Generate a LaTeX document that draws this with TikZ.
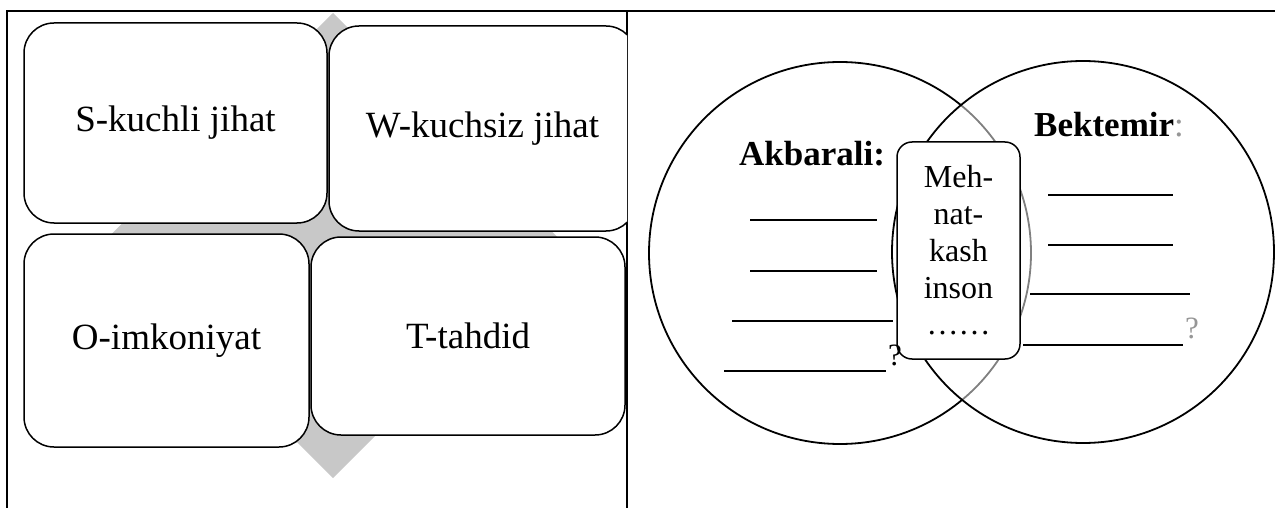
\documentclass[tikz,border=0pt]{standalone}
\usepackage{fontspec}
\setmainfont{Liberation Serif}
\usetikzlibrary{positioning}
\definecolor{diamondgray}{RGB}{200,200,200}
\definecolor{softgray}{RGB}{150,150,150}
\tikzset{
  tablerule/.style={line width=2pt},
  swotbox/.style={draw, line width=1.5pt, rounded corners=30pt, fill=white, inner sep=0pt, font=\fontsize{37}{44}\selectfont},
  vennset/.style={draw, circle, line width=1.8pt, minimum size=382pt, inner sep=0pt},
  namelabel/.style={anchor=base west, inner sep=0pt, font=\fontsize{35}{40}\selectfont\bfseries},
  blank/.style={line width=2.5pt},
  thinblank/.style={line width=1.5pt},
  qmark/.style={anchor=base west, inner sep=0pt, font=\fontsize{31}{36}\selectfont}
}

\begin{document}
\begin{tikzpicture}[x=1pt,y=-1pt]
\useasboundingbox (0,0) rectangle (1275,508);

% table frame
\draw[tablerule] (7,508) -- (7,11) -- (1275,11);
\draw[tablerule] (627,11) -- (627,508);

% SWOT cell
\begin{scope}
\clip (7,11) rectangle (627,508);
\fill[diamondgray] (333,13) -- (566,245.5) -- (333,478) -- (100,245.5) -- cycle;
\node[swotbox, minimum width=303pt, minimum height=200pt] (strong) at (175.5,123) {S-kuchli jihat};
\node[swotbox, minimum width=307pt, minimum height=205pt] (weak) at (482.5,128.5) {W-kuchsiz jihat};
\node[swotbox, minimum width=285pt, minimum height=213pt] (chance) at (166.5,340.5) {O-imkoniyat};
\node[swotbox, minimum width=314pt, minimum height=198pt] (threat) at (468,336) {T-tahdid};
\end{scope}

% Venn cell
\node[vennset] (akbaraliset) at (840,253) {};
\node[vennset, fill=white, fill opacity=0.5] (bektemirset) at (1083,252) {};

\node[namelabel] (akbarali) at (739,165) {Akbarali:};
\node[namelabel] (bektemir) at (1034,137) {Bektemir\textcolor{softgray}{\mdseries:}};

\draw[blank] (750,220) -- (877,220);
\draw[blank] (750,271) -- (877,271);
\draw[blank] (732,321) -- (893,321);
\draw[blank] (724,371) -- (886,371);

\draw[thinblank] (1048,195) -- (1173,195);
\draw[thinblank] (1048,245) -- (1173,245);
\draw[thinblank] (1030,294) -- (1190,294);
\draw[thinblank] (1023,345) -- (1183,345);

\node[draw, line width=1.5pt, rounded corners=15pt, fill=white, minimum width=123pt, minimum height=217pt, inner sep=0pt, align=center, font=\fontsize{32}{36.7}\selectfont] (common) at (958.5,250.5) {Meh-\\nat-\\kash\\inson\\……};

\node[qmark] (leftq) at (888,365) {?};
\node[qmark, text=softgray] (rightq) at (1185,338) {?};
\end{tikzpicture}
\end{document}
